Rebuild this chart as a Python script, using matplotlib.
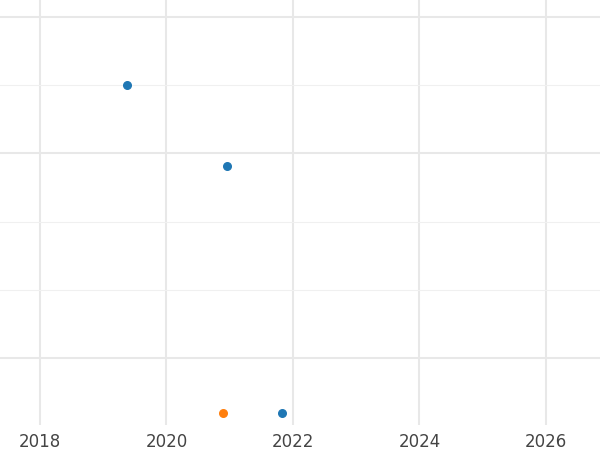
import matplotlib
matplotlib.use("Agg")
import matplotlib.pyplot as plt

blue_x = [2019.37, 2020.95, 2021.82]
blue_y = [5.0, 3.81, 0.19]
orange_x = [2020.90]
orange_y = [0.19]
xticks = [2018, 2020, 2022, 2024, 2026]

fig = plt.figure(figsize=(6, 4.5), dpi=100)
ax = fig.add_axes([0, 25/450, 1, 425/450])
ax.scatter(blue_x, blue_y, color="#1f77b4", s=30, zorder=3)
ax.scatter(orange_x, orange_y, color="#ff7f0e", s=30, zorder=3)
ax.set_xlim(2017.3676, 2026.854)
ax.set_ylim(0.015, 6.25)
ax.set_xticks(xticks)
ax.set_yticks([1, 4, 6])
ax.set_yticks([2, 3, 5], minor=True)
ax.grid(True, which="major", color="#e8e8e8", linewidth=1.5)
ax.grid(True, which="minor", axis="y", color="#f0f0f0", linewidth=0.8)
ax.set_axisbelow(True)
for s in ax.spines.values():
    s.set_visible(False)
ax.tick_params(axis="both", which="both", length=0)
ax.tick_params(axis="x", labelsize=12, labelcolor="#444444", pad=6)
ax.set_yticklabels([])
ax.set_yticklabels([], minor=True)
fig.savefig("out.png", dpi=100)
